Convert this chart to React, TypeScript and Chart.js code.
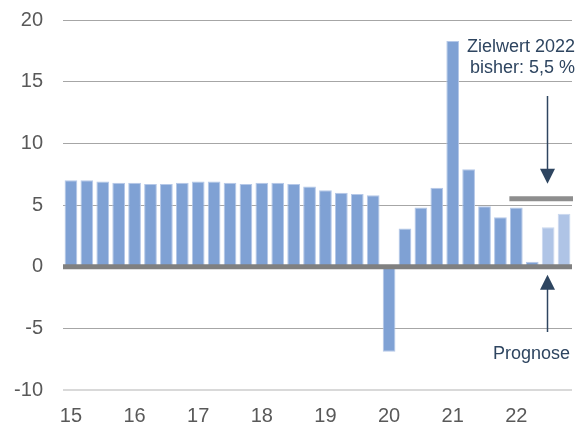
import React, { useEffect, useRef } from "react";
import { Chart, registerables } from "chart.js";

Chart.register(...registerables);

const years = ["15", "16", "17", "18", "19", "20", "21", "22"];
const quarterNames = ["Q1", "Q2", "Q3", "Q4"];
const categories = years.flatMap((y) => quarterNames.map((q) => `${q} ${y}`));

const growth = [
  7.0, 7.0, 6.9, 6.8,
  6.8, 6.7, 6.7, 6.8,
  6.9, 6.9, 6.8, 6.7,
  6.8, 6.8, 6.7, 6.5,
  6.2, 6.0, 5.9, 5.8,
  -6.9, 3.1, 4.8, 6.4,
  18.3, 7.9, 4.9, 4.0,
  4.8, 0.4, 3.2, 4.3,
];
const forecastFrom = 30;
const targetValue = 5.5;
const targetFromIndex = 28;
const yTicks = [-10, -5, 0, 5, 10, 15, 20];

const FONT = "'Liberation Sans', Arial, sans-serif";
const BAR = "#7FA1D4";
const BAR_FC = "#AFC4E6";
const NAVY = "#2E4560";

const annotations = {
  id: "annotations",
  afterDatasetsDraw(chart: any) {
    const { ctx, chartArea, scales } = chart;
    const xs = scales.x;
    const ys = scales.y;
    const slot = (chartArea.right - chartArea.left) / categories.length;
    ctx.save();
    // zero line
    const y0 = ys.getPixelForValue(0);
    ctx.strokeStyle = "#808080";
    ctx.lineWidth = 5;
    ctx.beginPath();
    ctx.moveTo(chartArea.left, y0);
    ctx.lineTo(chartArea.right, y0);
    ctx.stroke();
    // target line
    const yt = ys.getPixelForValue(targetValue);
    const xt0 = xs.getPixelForValue(targetFromIndex) - slot / 2 + 1;
    ctx.strokeStyle = "#8E8E8E";
    ctx.beginPath();
    ctx.moveTo(xt0, yt);
    ctx.lineTo(chartArea.right + 1, yt);
    ctx.stroke();
    // arrows
    const ax = Math.round(xs.getPixelForValue(30)) - 0.5;
    ctx.strokeStyle = NAVY;
    ctx.fillStyle = NAVY;
    ctx.lineWidth = 1.5;
    // down arrow
    const tipD = yt - 15;
    ctx.beginPath();
    ctx.moveTo(ax, 96);
    ctx.lineTo(ax, tipD - 12);
    ctx.stroke();
    ctx.beginPath();
    ctx.moveTo(ax - 7.5, tipD - 15);
    ctx.lineTo(ax + 7.5, tipD - 15);
    ctx.lineTo(ax, tipD);
    ctx.closePath();
    ctx.fill();
    // up arrow
    const tipU = y0 + 8;
    ctx.beginPath();
    ctx.moveTo(ax, tipU + 12);
    ctx.lineTo(ax, 332);
    ctx.stroke();
    ctx.beginPath();
    ctx.moveTo(ax - 7.5, tipU + 15);
    ctx.lineTo(ax + 7.5, tipU + 15);
    ctx.lineTo(ax, tipU);
    ctx.closePath();
    ctx.fill();
    // texts
    ctx.font = `18px ${FONT}`;
    ctx.textAlign = "right";
    ctx.textBaseline = "middle";
    ctx.fillText("Zielwert 2022", chartArea.right + 3, 47);
    ctx.fillText("bisher: 5,5 %", chartArea.right + 3, 68);
    ctx.fillText("Prognose", chartArea.right - 2, 354);
    ctx.restore();
  },
};

export default function App() {
  const ref = useRef<HTMLCanvasElement>(null);
  useEffect(() => {
    if (!ref.current) return;
    const chart = new Chart(ref.current, {
      type: "bar",
      data: {
        labels: categories,
        datasets: [
          {
            data: growth,
            backgroundColor: growth.map((_, i) => (i >= forecastFrom ? BAR_FC : BAR)),
            borderColor: growth.map((_, i) => (i >= forecastFrom ? "#C9D7EE" : "#B5C8E8")),
            borderWidth: 1,
            barPercentage: 0.8,
            categoryPercentage: 1,
          },
        ],
      },
      options: {
        responsive: false,
        animation: false,
        layout: { padding: { top: 20, right: 11, left: 0, bottom: 0 } },
        plugins: { legend: { display: false }, tooltip: { enabled: false } },
        scales: {
          x: {
            grid: { display: false, drawTicks: false },
            border: { display: false },
            ticks: {
              autoSkip: false,
              maxRotation: 0,
              padding: 14,
              color: "#595959",
              font: { family: FONT, size: 20 },
              callback: (_v: any, i: number) => (i % 4 === 0 ? years[i / 4] : ""),
            },
            afterFit: (s: any) => {
              s.height = 33;
              s.paddingLeft = 0;
              s.paddingRight = 0;
            },
          },
          y: {
            min: -10,
            max: 20,
            afterBuildTicks: (s: any) => {
              s.ticks = yTicks.map((v) => ({ value: v }));
            },
            grid: {
              drawTicks: false,
              color: (c: any) =>
                c.tick.value === -10 ? "#D9D9D9" : c.tick.value === 0 ? "rgba(0,0,0,0)" : "#A6A6A6",
              lineWidth: (c: any) => (c.tick.value === -10 ? 2 : 1),
            },
            border: { display: false },
            ticks: {
              padding: 20,
              color: "#595959",
              font: { family: FONT, size: 20 },
            },
            afterFit: (s: any) => {
              s.width = 63;
              s.paddingTop = 0;
              s.paddingBottom = 0;
            },
          },
        },
      },
      plugins: [annotations],
    });
    return () => chart.destroy();
  }, []);
  return (
    <div style={{ position: "absolute", left: 0, top: 0, width: 583, height: 423, background: "#fff" }}>
      <canvas ref={ref} width={583} height={423} />
    </div>
  );
}
